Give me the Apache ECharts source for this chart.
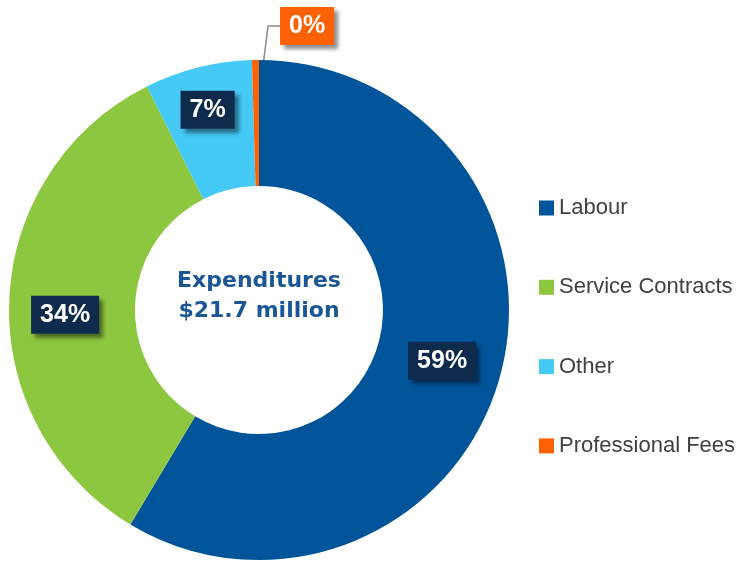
<!DOCTYPE html>
<html><head><meta charset="utf-8">
<script src="https://cdn.jsdelivr.net/npm/echarts@6/dist/echarts.min.js"></script>
<style>html,body{margin:0;padding:0;background:#fff}#c{width:746px;height:561px}</style>
</head><body><div id="c"></div>
<script>
const categories = ['Labour', 'Service Contracts', 'Other', 'Professional Fees'];
const shares = [58.6, 34.0, 6.95, 0.45];
const colors = ['#00559A', '#8DC63F', '#45C9F6', '#FF6205'];
const centerLines = ['Expenditures', '$21.7 million'];
// small nudges (px) from ECharts' default inside-label spot
const labelNudge = [[0, 0], [-4, 12], [-5, -16], [0, 0]];

const CX = 259, CY = 310;
const chart = echarts.init(document.getElementById('c'), null, { renderer: 'canvas' });

const data = categories.map((name, i) => {
  const item = { name: name, value: shares[i], itemStyle: { color: colors[i] } };
  if (i === 3) {
    item.label = { position: 'outside', backgroundColor: colors[i] };
    item.labelLine = { show: true, smooth: false, lineStyle: { color: '#8a8a8a', width: 1.5 } };
  }
  return item;
});

chart.setOption({
  animation: false,
  legend: {
    orient: 'vertical',
    left: 539,
    top: 196,
    padding: 0,
    icon: 'rect',
    itemWidth: 15,
    itemHeight: 15,
    itemGap: 55.3,
    selectedMode: false,
    data: categories,
    textStyle: { fontFamily: 'Liberation Sans, Arial, sans-serif', fontSize: 22, lineHeight: 24, color: '#404040' }
  },
  graphic: [{
    type: 'text',
    x: CX,
    y: CY - 14,
    silent: true,
    style: {
      text: centerLines.join('\n'),
      align: 'center',
      verticalAlign: 'middle',
      fontFamily: 'DejaVu Sans, sans-serif',
      fontWeight: 'bold',
      fontSize: 22,
      lineHeight: 30,
      fill: '#1B5797'
    }
  }],
  series: [{
    type: 'pie',
    center: [CX, CY],
    radius: [124, 250],
    startAngle: 90,
    clockwise: true,
    avoidLabelOverlap: false,
    emphasis: { disabled: true },
    itemStyle: { borderWidth: 0 },
    label: {
      show: true,
      position: 'inside',
      rotate: 0,
      formatter: p => Math.round(p.value) + '%',
      color: '#ffffff',
      fontFamily: 'Liberation Sans, Arial, sans-serif',
      fontWeight: 'bold',
      fontSize: 25,
      lineHeight: 26,
      padding: [6, 9],
      backgroundColor: '#0E2A4C',
      shadowColor: 'rgba(0,0,0,0.45)',
      shadowBlur: 4,
      shadowOffsetX: 4,
      shadowOffsetY: 4
    },
    labelLine: { show: false },
    labelLayout: function (p) {
      if (p.dataIndex === 3) {
        const r = p.rect;
        const lw = p.labelRect.width;
        const left = r.x + r.width + 21;
        const cy = r.y - 34;
        return {
          x: left + lw / 2, y: cy, align: 'center', verticalAlign: 'middle',
          labelLinePoints: [[r.x + r.width / 2 + 0.5, r.y + r.height / 2], [left - 12, cy], [left, cy]]
        };
      }
      const n = labelNudge[p.dataIndex];
      return {
        x: p.labelRect.x + p.labelRect.width / 2 + n[0],
        y: p.labelRect.y + p.labelRect.height / 2 + n[1],
        align: 'center', verticalAlign: 'middle'
      };
    },
    data: data
  }]
});
</script>
</body></html>
